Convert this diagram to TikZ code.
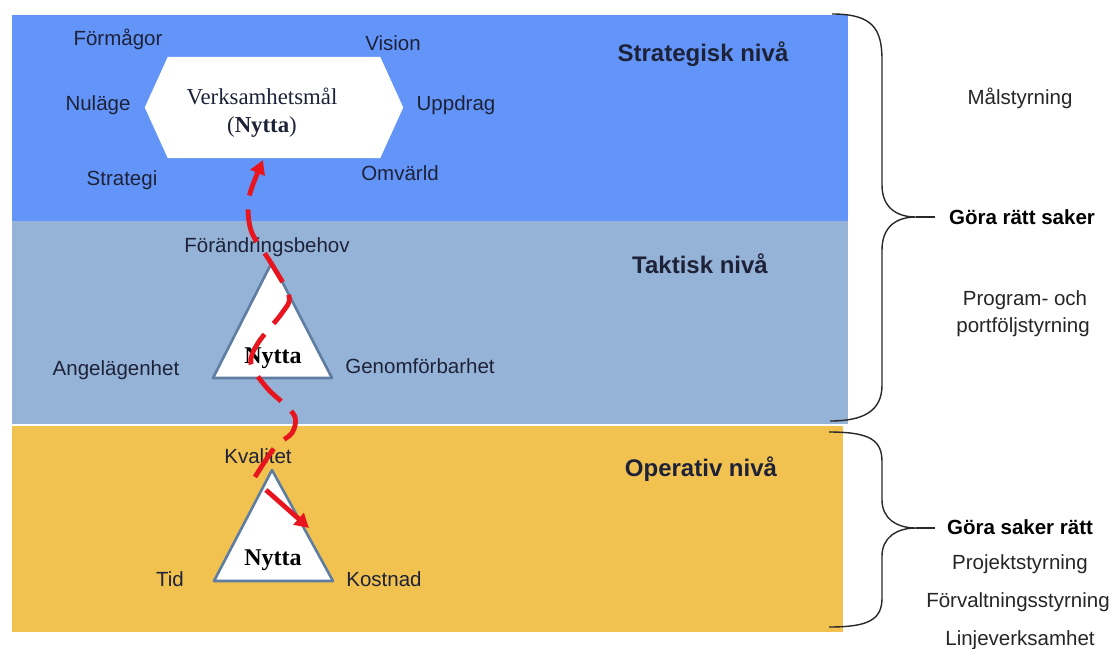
\documentclass[tikz,border=0pt]{standalone}
\usepackage{fontspec}
\setmainfont{Liberation Sans}
\newfontfamily\seriffont{Liberation Serif}
\usetikzlibrary{arrows.meta,calc}
\definecolor{stratblue}{RGB}{99,149,249}
\definecolor{taktblue}{RGB}{149,179,215}
\definecolor{opyellow}{RGB}{242,194,80}
\definecolor{txt}{RGB}{30,34,56}
\definecolor{tribord}{RGB}{95,125,160}
\definecolor{arrred}{RGB}{232,20,30}
\definecolor{bracecol}{RGB}{40,40,40}
\begin{document}
\begin{tikzpicture}[x=1pt,y=-1pt,
 lbl/.style={anchor=base,inner sep=0pt,text=txt,font=\fontsize{20.5}{24}\selectfont},
 head/.style={anchor=base,inner sep=0pt,text=txt,font=\fontsize{24}{28}\selectfont\bfseries},
 side/.style={anchor=base,inner sep=0pt,text=black!85,font=\fontsize{20.5}{24}\selectfont},
 sidebold/.style={anchor=base,inner sep=0pt,text=black,font=\fontsize{20.5}{24}\selectfont\bfseries},
 nyt/.style={anchor=base,inner sep=0pt,text=black,font=\fontsize{24}{28}\selectfont\seriffont\bfseries},
 tri/.style={fill=white,draw=tribord,line width=2.6pt,line join=round},
 brace/.style={draw=bracecol,line width=1.4pt},
 redpath/.style={draw=arrred,line width=4.8pt,dash pattern=on 34pt off 14pt},
 redtip/.style={-{Triangle[length=14pt,width=15pt]}},
]
\useasboundingbox (0,0) rectangle (1115,648);
\fill[white] (0,0) rectangle (1115,648);
% bands
\fill[stratblue] (12,15) rectangle (848,221);
\fill[taktblue] (12,221) rectangle (848,424);
\fill[opyellow] (12,426) rectangle (843,632);

% hexagon
\node[minimum width=212pt,minimum height=101pt,inner sep=0pt] (hex) at (274,107.5) {};
\fill[white] (hex.north west) -- (hex.north east) -- ($(hex.east)+(23,0)$) -- (hex.south east) -- (hex.south west) -- ($(hex.west)+(-23,0)$) -- cycle;
\node[anchor=base,inner sep=0pt,text=txt,font=\fontsize{22.8}{28}\selectfont\seriffont] (vm) at (262,104) {Verksamhetsmål};
\node[anchor=base,inner sep=0pt,text=txt,font=\fontsize{22.8}{28}\selectfont\seriffont] (vmn) at (262,132) {(\textbf{Nytta})};

\node[lbl] (formagor) at (118,45) {Förmågor};
\node[lbl] (vision) at (393,50) {Vision};
\node[lbl] (nulage) at (98,110) {Nuläge};
\node[lbl] (uppdrag) at (456,110) {Uppdrag};
\node[lbl] (strategi) at (122,185) {Strategi};
\node[lbl] (omvarld) at (400,180) {Omvärld};
\node[head] (strat) at (703,61) {Strategisk nivå};

% tactical
\coordinate (ta) at (272,262);
\coordinate (tl) at (213,378);
\coordinate (tr) at (332,378);
\path[tri] (ta) -- (tr) -- (tl) -- cycle;
\node[nyt] (tnytta) at (273,363) {Nytta};
\node[lbl] (forand) at (267,252) {Förändringsbehov};
\node[lbl] (angel) at (116,375) {Angelägenhet};
\node[lbl] (genom) at (420,373) {Genomförbarhet};
\node[head] (takt) at (700,273) {Taktisk nivå};

% operative
\coordinate (oa) at (272,470);
\coordinate (ol) at (214,581);
\coordinate (or) at (333,581);
\path[tri] (oa) -- (or) -- (ol) -- cycle;
\node[nyt] (onytta) at (273,565) {Nytta};
\node[lbl] (kval) at (258,463) {Kvalitet};
\node[lbl] (tid) at (170,586) {Tid};
\node[lbl] (kost) at (384,586) {Kostnad};
\node[head] (oper) at (701,476) {Operativ nivå};

% red paths
\coordinate (rs) at (255,477);
\coordinate (hexin) at (263,160);
\draw[redpath,redtip] plot[smooth,tension=0.55] coordinates {(rs) (275,447) (292,433) (295,417) (283,403) (267,388) (251,364) (258,343) (282,313) (289,296) (271,263) (252,233) (248,208) (251,190) (hexin)};
\coordinate (ks) at (266,490);
\coordinate (ke) at (309,528);
\draw[arrred,line width=4.8pt,redtip] (ks) -- (ke);

% braces
\coordinate (b1t) at (832,14);
\coordinate (b1m) at (916,217);
\coordinate (b1b) at (830,421);
\draw[brace] (b1t) .. controls (872,14) and (882,28) .. (882,60) -- (882,185)
  .. controls (882,207) and (896,217) .. (b1m)
  .. controls (896,217) and (882,227) .. (882,250) -- (882,385)
  .. controls (882,412) and (862,421) .. (b1b);
\draw[brace] (b1m) -- (935,217);
\coordinate (b2t) at (829,432);
\coordinate (b2m) at (916,528);
\coordinate (b2b) at (829,627);
\draw[brace] (b2t) .. controls (870,432) and (882,440) .. (882,462) -- (882,500)
  .. controls (882,518) and (896,528) .. (b2m)
  .. controls (896,528) and (882,538) .. (882,556) -- (882,598)
  .. controls (882,620) and (868,627) .. (b2b);
\draw[brace] (b2m) -- (935,528);

% right labels
\node[side] (mal) at (1020,104) {Målstyrning};
\node[sidebold] (gors) at (1022,224) {Göra rätt saker};
\node[side] (prog) at (1025,305) {Program- och};
\node[side] (port) at (1023,332) {portföljstyrning};
\node[sidebold] (gsr) at (1020,534) {Göra saker rätt};
\node[side] (proj) at (1020,569) {Projektstyrning};
\node[side] (forv) at (1018,607) {Förvaltningsstyrning};
\node[side] (linj) at (1020,645) {Linjeverksamhet};
\end{tikzpicture}
\end{document}
